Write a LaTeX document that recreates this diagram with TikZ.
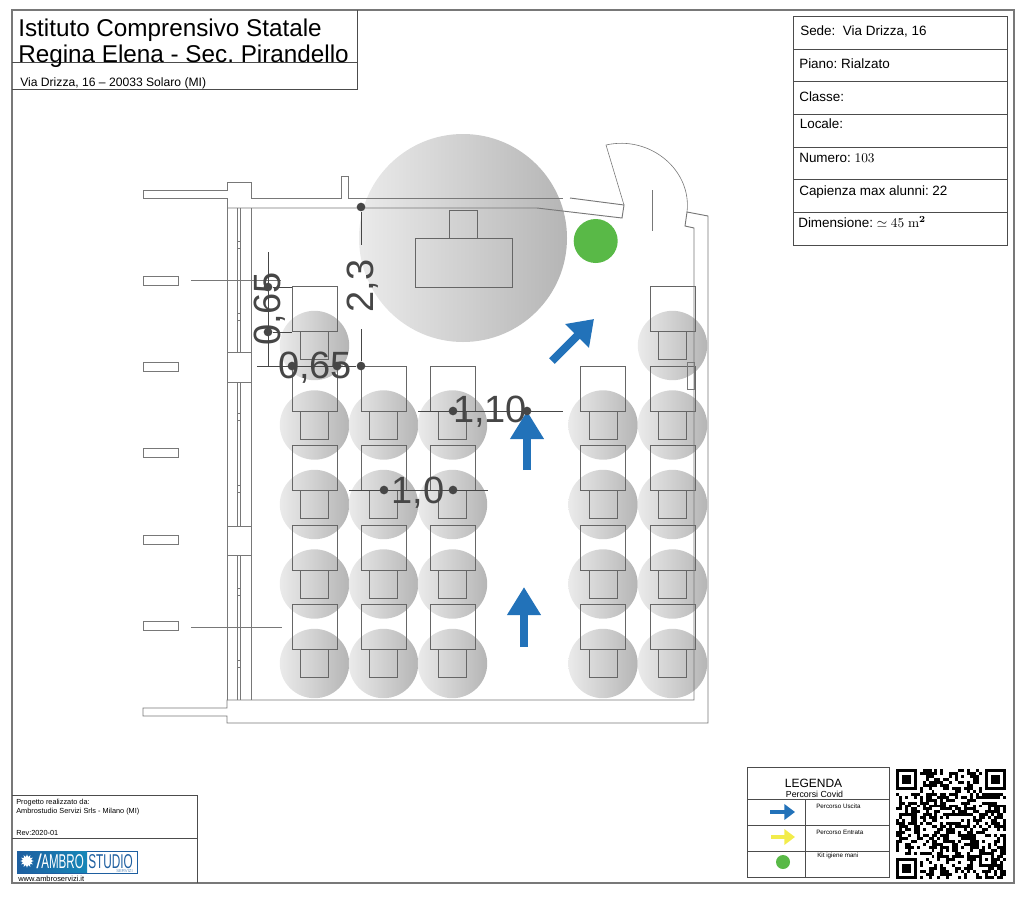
\documentclass[tikz,border=0pt]{standalone}
\usepackage[no-math]{fontspec}
\setmainfont{Liberation Sans}
\usepackage{xcolor}
\usetikzlibrary{arrows.meta,shapes.geometric}
\definecolor{wallgray}{RGB}{120,120,120}
\definecolor{dimgray}{RGB}{70,70,70}
\definecolor{pathblue}{RGB}{34,114,185}
\definecolor{pathyellow}{RGB}{242,236,75}
\definecolor{kitgreen}{RGB}{89,185,71}
\definecolor{logoblue}{RGB}{30,95,160}
\newcommand{\fs}[1]{\fontsize{#1}{#1}\selectfont}
\frenchspacing
\tikzset{
  lab/.style={anchor=base west, inner sep=0pt, text=black},
  cell/.style={draw=black!70, line width=.6pt},
  wall/.style={draw=wallgray, line width=.7pt},
  thinwall/.style={draw=wallgray, line width=.45pt},
  desk/.style={draw=black!60, line width=.7pt},
  safezone/.style={left color=gray!16, right color=gray!58},
  dimline/.style={draw=dimgray, line width=.7pt},
  dimdot/.style={circle, fill=dimgray, inner sep=0pt, minimum size=6.5pt},
  dimtxt/.style={anchor=base, inner sep=0pt, text=dimgray, font=\fs{28.5}},
  bigarrow/.style={draw=pathblue, line width=6pt, -{Triangle[length=21pt,width=24pt]}},
  smallarrow/.style={line width=3pt, -{Triangle[length=8pt,width=11.5pt]}}
}
\begin{document}
\begin{tikzpicture}[x=.75pt,y=-.75pt]
\useasboundingbox (0,0) rectangle (1024,897);

% Sheet frame
\draw[draw=wallgray, line width=.8pt] (12,10) rectangle (1014,883);

% Title block
\draw[cell] (12,62) -- (357,62) (357,10) -- (357,89) -- (12,89);
\node[lab, font=\fs{18.2}] (title1) at (18,36) {Istituto Comprensivo Statale};
\node[lab, font=\fs{18.2}] (title2) at (18,62) {Regina Elena - Sec. Pirandello};
\node[lab, font=\fs{9.1}] (address) at (20,86) {Via Drizza, 16 – 20033 Solaro (MI)};

% Room data
\draw[cell] (793,16) rectangle (1007,245);
\foreach \y in {49,81,114,147,179,212}
  \draw[cell] (793,\y) -- (1007,\y);
\node[lab, font=\fs{10.1}] (sede) at (800,35) {Sede:\ \ Via Drizza, 16};
\node[lab, font=\fs{10.1}] (piano) at (799,68) {Piano: Rialzato};
\node[lab, font=\fs{10.1}] (classe) at (799,101) {Classe:};
\node[lab, font=\fs{10.1}] (locale) at (799.5,128) {Locale:};
\node[lab, font=\fs{10.1}] (numero) at (799,162) {Numero: $103$};
\node[lab, font=\fs{10.1}] (capienza) at (799,195) {Capienza max alunni: 22};
\node[lab, font=\fs{10.1}] (dimensione) at (798,227) {Dimensione: $\simeq 45\ \mathrm{m}^{\mathbf{2}}$};

% Safety circles
\shade[safezone] (463,238) circle (104);
\foreach \x/\y in {314.5/345.5,672.5/345.5}
  \shade[safezone] (\x,\y) circle (34.7);
\foreach \x in {314.5,383.5,452.5,603,672.5}
  \foreach \y in {425,504.5,584,663.5}
    \shade[safezone] (\x,\y) circle (34.7);

% Desks and chairs
\foreach \x/\y in {314.5/345.5,672.5/345.5}{
  \draw[desk] (\x-22.5,\y-59) rectangle (\x+22.5,\y-14);
  \draw[desk] (\x-14,\y-14) rectangle (\x+14,\y+14);
}
\foreach \x in {314.5,383.5,452.5,603,672.5}
  \foreach \y in {425,504.5,584,663.5}{
    \draw[desk] (\x-22.5,\y-59) rectangle (\x+22.5,\y-14);
    \draw[desk] (\x-14,\y-14) rectangle (\x+14,\y+14);
  }

% Teacher desk
\draw[desk] (415,238) rectangle (512,287);
\draw[desk] (449,210) rectangle (477,238);

% Walls
\draw[wall] (143,190) -- (227,190) -- (227,182) -- (251,182) -- (251,198) -- (341,198) -- (341,176) -- (348,176) -- (348,198) -- (563,198);
\draw[wall] (227,198) -- (143,198) -- (143,190);
\draw[wall] (227,198) -- (227,700);
\draw[wall] (227,208) -- (537,208) -- (622,218) -- (624,205) -- (570,198);
\draw[wall] (143,708) -- (227,708) -- (227,700) -- (694,700) -- (694,228) -- (685,226) -- (687,212) -- (708,216) -- (708,723) -- (227,723) -- (227,716) -- (143,716) -- cycle;
\draw[wall] (251,208) -- (251,700);
\draw[thinwall] (237,208) -- (237,700) (240,208) -- (240,700);
\foreach \y in {241,313,413,485,588,660}
  \draw[thinwall] (237,\y) rectangle (240,\y+7);
\draw[wall, fill=white] (227,352) rectangle (251,382);
\draw[wall, fill=white] (227,526) rectangle (251,555);
\draw[thinwall] (687,362) rectangle (694,389);

% Door
\draw[thinwall] (624,205) -- (606,145) .. controls (650,135) and (692,170) .. (687,212);
\draw[thinwall] (652,190) -- (652,231);

% Outer windows
\foreach \y in {276,362,448,535,621}
  \draw[wall] (143,\y) rectangle (178,\y+9);
\draw[thinwall] (191,280) -- (281,280);
\draw[thinwall] (191,627) -- (282,627);

% Hand kit
\fill[kitgreen] (595.7,241) circle (22);

% Exit paths
\coordinate (d1) at (552,361);
\coordinate (d2) at (594,319);
\coordinate (u1) at (527,470);
\coordinate (u2) at (527,411);
\coordinate (v1) at (524,647);
\coordinate (v2) at (524,587);
\draw[bigarrow, -{Triangle[length=18pt,width=24pt]}] (d1) -- (d2);
\draw[bigarrow] (u1) -- (u2);
\draw[bigarrow] (v1) -- (v2);

% Distances
\node[dimdot] (a1) at (361,207) {};
\node[dimdot] (a2) at (361,366) {};
\node[dimdot] (b1) at (292,366) {};
\node[dimdot] (b2) at (337,366) {};
\node[dimdot] (c1) at (268,287) {};
\node[dimdot] (c2) at (268,332) {};
\node[dimdot] (e1) at (453,411) {};
\node[dimdot] (e2) at (527,411) {};
\node[dimdot] (f1) at (384,490) {};
\node[dimdot] (f2) at (453,490) {};
\coordinate (a3) at (361,245);
\coordinate (a4) at (361,329);
\coordinate (b0) at (257,366);
\coordinate (c0) at (268,252);
\coordinate (c3) at (268,366);
\coordinate (e0) at (418,411);
\coordinate (e3) at (563,411);
\coordinate (f0) at (349,490);
\coordinate (f3) at (488,490);
\draw[dimline] (a1) -- (a3) (a4) -- (a2);
\draw[dimline] (b0) -- (a2);
\draw[dimline] (c0) -- (c3);
\draw[dimline] (c1) -- (292,287) (c2) -- (292,332);
\draw[dimline] (e0) -- (e3);
\draw[dimline] (f0) -- (f3);
\node[dimtxt] (d065) at (315,378) {0,65};
\node[dimtxt, rotate=90] (v065) at (280,309) {0,65};
\node[dimtxt, rotate=90] (v23) at (373,286) {2,3};
\node[dimtxt] (d110) at (490,422) {1,10};
\node[dimtxt] (d10) at (418,503) {1,0};

% Credits
\draw[cell] (12,795) -- (197,795) -- (197,883);
\draw[cell] (12,838) -- (197,838);
\node[lab, font=\fs{5.5}] (prog1) at (16,804) {Progetto realizzato da:};
\node[lab, font=\fs{5.5}] (prog2) at (16,813) {Ambrostudio Servizi Srls - Milano (MI)};
\node[lab, font=\fs{5.5}] (rev) at (16,835) {Rev:2020-01};
\node[lab, font=\fs{5.6}] (web) at (18,881) {www.ambroservizi.it};

% Logo
\draw[draw=logoblue, line width=.5pt] (17.5,851) rectangle (137,873);
\fill[left color=logoblue, right color=logoblue!75!cyan, draw=none] (18,851.5) rectangle (87,872.5);
\node[star, star points=12, star point ratio=1.6, fill=white, inner sep=0pt, minimum size=10pt] (sun) at (27,861) {};
\node[lab, text=white, font=\fs{15}] (ambro) at (41,868.5) {\scalebox{.58}[1]{AMBRO}};
\node[lab, text=logoblue, font=\fs{15}] (studio) at (88,868) {\scalebox{.59}[1]{STUDIO}};
\node[lab, text=logoblue!70, font=\fs{3.2}] (servizi) at (116,872.5) {SERVIZI};
\node[lab, text=white, font=\fs{15}] (slash) at (36,868.5) {/};

% Legend
\draw[cell] (747,767) rectangle (889,877);
\foreach \y in {799,825,851}
  \draw[cell] (747,\y) -- (889,\y);
\draw[cell] (805,799) -- (805,877);
\node[anchor=base, inner sep=0pt, font=\fs{9}] (legenda) at (813.5,787) {LEGENDA};
\node[anchor=base, inner sep=0pt, font=\fs{6.6}] (percorsi) at (814.5,797) {Percorsi Covid};
\coordinate (l1) at (770,812);
\coordinate (l2) at (795,812);
\coordinate (l3) at (771,837);
\coordinate (l4) at (795,837);
\draw[smallarrow, draw=pathblue] (l1) -- (l2);
\draw[smallarrow, draw=pathyellow] (l3) -- (l4);
\fill[kitgreen] (783,862) circle (7);
\node[lab, font=\fs{4.7}] (uscita) at (816,808) {Percorso Uscita};
\node[lab, font=\fs{4.7}] (entrata) at (816,834) {Percorso Entrata};
\node[lab, font=\fs{4.7}] (kit) at (817,857) {Kit igiene mani};

% QR code
\begin{scope}[shift={(896,769)},x=2.22pt,y=-2.22pt]
\pgfmathsetseed{103}
\foreach \i in {0,...,36}
  \foreach \j in {0,...,36}{
    \pgfmathrandominteger{\qrbit}{0}{1}
    \ifnum\qrbit=1 \fill[black] (\i,\j) rectangle ++(1,1); \fi
  }
\foreach \fx/\fy/\wx/\wy in {0/0/0/0,30/0/29/0,0/30/0/29}{
  \fill[white] (\wx,\wy) rectangle ++(8,8);
  \fill[black] (\fx,\fy) rectangle ++(7,7);
  \fill[white] (\fx+1,\fy+1) rectangle ++(5,5);
  \fill[black] (\fx+2,\fy+2) rectangle ++(3,3);
}
\fill[black] (28,28) rectangle ++(5,5);
\fill[white] (29,29) rectangle ++(3,3);
\fill[black] (30,30) rectangle ++(1,1);
\end{scope}
\end{tikzpicture}
\end{document}
